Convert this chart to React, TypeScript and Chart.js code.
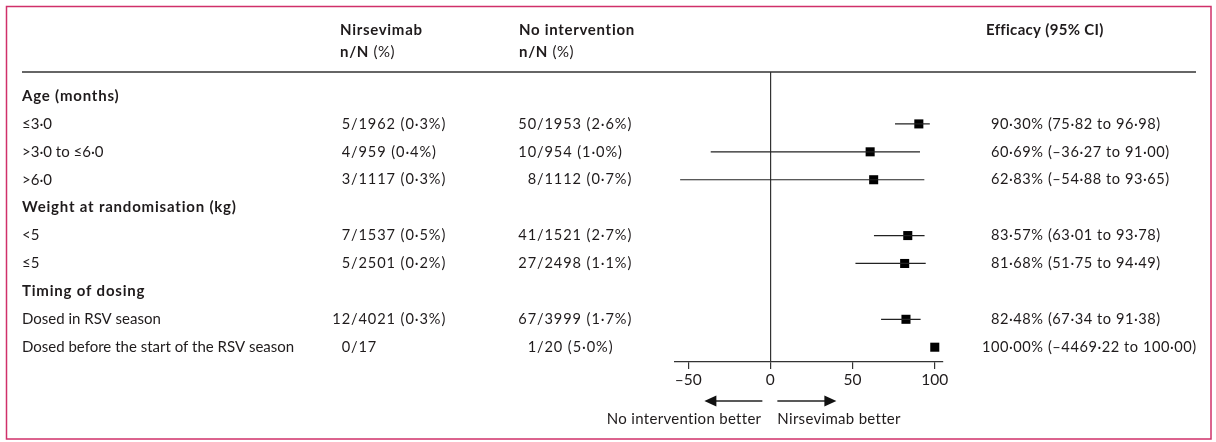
import { useEffect, useRef } from 'react';
import { Chart, registerables } from 'chart.js';

Chart.register(...registerables);

// ---------- data ----------
const rowLabels = [
  'Age (months)',
  '≤3·0',
  '>3·0 to ≤6·0',
  '>6·0',
  'Weight at randomisation (kg)',
  '<5',
  '≤5',
  'Timing of dosing',
  'Dosed in RSV season',
  'Dosed before the start of the RSV season',
];
const isGroupHeader = [true, false, false, false, true, false, false, true, false, false];
const nirsevimabCounts = ['', '5/1962 (0·3%)', '4/959 (0·4%)', '3/1117 (0·3%)', '', '7/1537 (0·5%)', '5/2501 (0·2%)', '', '12/4021 (0·3%)', '0/17'];
const noInterventionCounts = ['', '50/1953 (2·6%)', '10/954 (1·0%)', '8/1112 (0·7%)', '', '41/1521 (2·7%)', '27/2498 (1·1%)', '', '67/3999 (1·7%)', '1/20 (5·0%)'];
const efficacy: (number | null)[] = [null, 90.3, 60.69, 62.83, null, 83.57, 81.68, null, 82.48, 100.0];
const ciLower: (number | null)[] = [null, 75.82, -36.27, -54.88, null, 63.01, 51.75, null, 67.34, -4469.22];
const ciUpper: (number | null)[] = [null, 96.98, 91.0, 93.65, null, 93.78, 94.49, null, 91.38, 100.0];
const xTickValues = [-50, 0, 50, 100];
const xMin = -58;
const xMax = 105;

const headerCol1 = ['Nirsevimab', 'n/N (%)'];
const headerCol2 = ['No intervention', 'n/N (%)'];
const headerCol3 = 'Efficacy (95% CI)';
const leftArrowLabel = 'No intervention better';
const rightArrowLabel = 'Nirsevimab better';

// ---------- style ----------
const FONT = 'Lato, "Open Sans", sans-serif';
const TEXT = '#1f1b1c';
const LINE = '#333333';
const BORDER = '#d0306a';

const fmt = (v: number) => (v < 0 ? '–' : '') + Math.abs(v).toFixed(2).replace('.', '·');
const efficacyText = (i: number) =>
  efficacy[i] == null ? '' : `${fmt(efficacy[i] as number)}% (${fmt(ciLower[i] as number)} to ${fmt(ciUpper[i] as number)})`;

function drawAligned(ctx: CanvasRenderingContext2D, text: string, sep: string, ax: number, y: number) {
  if (!text) return;
  const idx = text.indexOf(sep);
  const left = text.slice(0, idx);
  const right = text.slice(idx);
  ctx.textAlign = 'right';
  ctx.fillText(left, ax, y);
  ctx.textAlign = 'left';
  ctx.fillText(right, ax, y);
}

const setLS = (ctx: CanvasRenderingContext2D, v: string) => {
  (ctx as any).letterSpacing = v;
};

const tablePlugin = {
  id: 'forestTable',
  afterDraw(chart: any) {
    const ctx: CanvasRenderingContext2D = chart.ctx;
    const ys = chart.scales.y;
    const xs = chart.scales.x;
    const zero = xs.getPixelForValue(0);
    ctx.save();

    // frame
    ctx.strokeStyle = BORDER;
    ctx.lineWidth = 1.5;
    ctx.strokeRect(6.5, 6.5, 1204.5, 432.5);

    // header rule
    ctx.strokeStyle = LINE;
    ctx.lineWidth = 1.3;
    ctx.beginPath();
    ctx.moveTo(22, 72);
    ctx.lineTo(1196, 72);
    ctx.stroke();

    ctx.fillStyle = TEXT;
    ctx.textBaseline = 'middle';

    // header text
    const BOLD = `bold 15px ${FONT}`;
    ctx.font = BOLD;
    setLS(ctx, '0.7px');
    ctx.textAlign = 'left';
    ctx.fillText(headerCol1[0], 340, 30);
    ctx.fillText(headerCol2[0], 519, 30);
    setLS(ctx, '0.3px');
    ctx.fillText(headerCol3, 986, 30);
    const drawNN = (x: number) => {
      ctx.font = BOLD;
      setLS(ctx, '0.7px');
      const a = 'n/N ';
      ctx.fillText(a, x, 52);
      const w = ctx.measureText(a).width;
      ctx.font = `15px ${FONT}`;
      setLS(ctx, '0.5px');
      ctx.fillText('(%)', x + w, 52);
    };
    drawNN(340);
    drawNN(519);

    // rows
    rowLabels.forEach((label, i) => {
      const y = ys.getPixelForValue(i);
      ctx.textAlign = 'left';
      if (isGroupHeader[i]) {
        ctx.font = BOLD;
        setLS(ctx, '0.8px');
      } else {
        ctx.font = `15px ${FONT}`;
        setLS(ctx, '0px');
      }
      ctx.fillText(label, 22, y);
      ctx.font = `14.6px ${FONT}`;
      setLS(ctx, '0.9px');
      drawAligned(ctx, nirsevimabCounts[i], '/', 351, y);
      drawAligned(ctx, noInterventionCounts[i], '/', 537, y);
      setLS(ctx, '0.55px');
      drawAligned(ctx, efficacyText(i), '·', 1009, y);
      setLS(ctx, '0px');
    });

    // arrows
    const ay = 401;
    ctx.strokeStyle = '#222';
    ctx.fillStyle = '#111';
    ctx.lineWidth = 1.3;
    const arrow = (from: number, tip: number) => {
      const dir = Math.sign(tip - from);
      ctx.beginPath();
      ctx.moveTo(from, ay);
      ctx.lineTo(tip - dir * 10, ay);
      ctx.stroke();
      ctx.beginPath();
      ctx.moveTo(tip, ay);
      ctx.lineTo(tip - dir * 12, ay - 5.5);
      ctx.lineTo(tip - dir * 12, ay + 5.5);
      ctx.closePath();
      ctx.fill();
    };
    arrow(zero - 8, zero - 66);
    arrow(zero + 7, zero + 66);

    ctx.fillStyle = TEXT;
    ctx.font = `15px ${FONT}`;
    setLS(ctx, '0.3px');
    ctx.textAlign = 'right';
    ctx.fillText(leftArrowLabel, zero - 9, 419);
    ctx.textAlign = 'left';
    ctx.fillText(rightArrowLabel, zero + 7, 419);
    setLS(ctx, '0px');

    ctx.restore();
  },
};

export default function App() {
  const ref = useRef<HTMLCanvasElement | null>(null);

  useEffect(() => {
    document.body.style.margin = '0';
    const canvas = ref.current;
    if (!canvas) return;

    const ciDatasets = rowLabels
      .map((_, i) => i)
      .filter((i) => ciLower[i] != null && (ciLower[i] as number) >= xMin)
      .map((i) => ({
        type: 'line' as const,
        data: [
          { x: ciLower[i] as number, y: i },
          { x: ciUpper[i] as number, y: i },
        ],
        borderColor: '#222',
        borderWidth: 1.2,
        pointRadius: 0,
        showLine: true,
        fill: false,
      }));

    const pointData = rowLabels
      .map((_, i) => i)
      .filter((i) => efficacy[i] != null)
      .map((i) => ({ x: efficacy[i] as number, y: i }));

    const chart = new Chart(canvas, {
      type: 'scatter',
      data: {
        datasets: [
          ...ciDatasets,
          {
            type: 'scatter' as const,
            data: pointData,
            pointStyle: 'rect',
            pointRadius: 6.4,
            pointBorderWidth: 0,
            backgroundColor: '#000',
            borderColor: '#000',
          },
        ] as any,
      },
      options: {
        animation: false,
        responsive: false,
        events: [],
        layout: { padding: { top: 72, left: 675, right: 273, bottom: 50 } },
        plugins: { legend: { display: false }, tooltip: { enabled: false } },
        scales: {
          x: {
            type: 'linear',
            min: xMin,
            max: xMax,
            afterBuildTicks: (axis: any) => {
              axis.ticks = xTickValues.map((v) => ({ value: v }));
            },
            afterFit: (scale: any) => {
              scale.height = 30;
            },
            ticks: {
              callback: (v: any) => (Number(v) < 0 ? '–' + Math.abs(Number(v)) : String(v)),
              font: { family: FONT, size: 15.5 },
              color: TEXT,
              padding: 2,
              maxRotation: 0,
            },
            grid: {
              color: (c: any) => (c.tick && c.tick.value === 0 ? LINE : 'rgba(0,0,0,0)'),
              tickColor: LINE,
              tickLength: 7,
              lineWidth: 1.2,
              drawOnChartArea: true,
            },
            border: { display: true, color: LINE, width: 1.2 },
          },
          y: {
            type: 'linear',
            reverse: true,
            min: -0.86,
            max: 9.53,
            display: false,
          },
        },
      },
      plugins: [tablePlugin],
    } as any);

    return () => chart.destroy();
  }, []);

  return (
    <div style={{ position: 'fixed', left: 0, top: 0, width: 1216, height: 442, background: '#fff' }}>
      <canvas ref={ref} width={1216} height={442} style={{ width: 1216, height: 442, display: 'block' }} />
    </div>
  );
}
